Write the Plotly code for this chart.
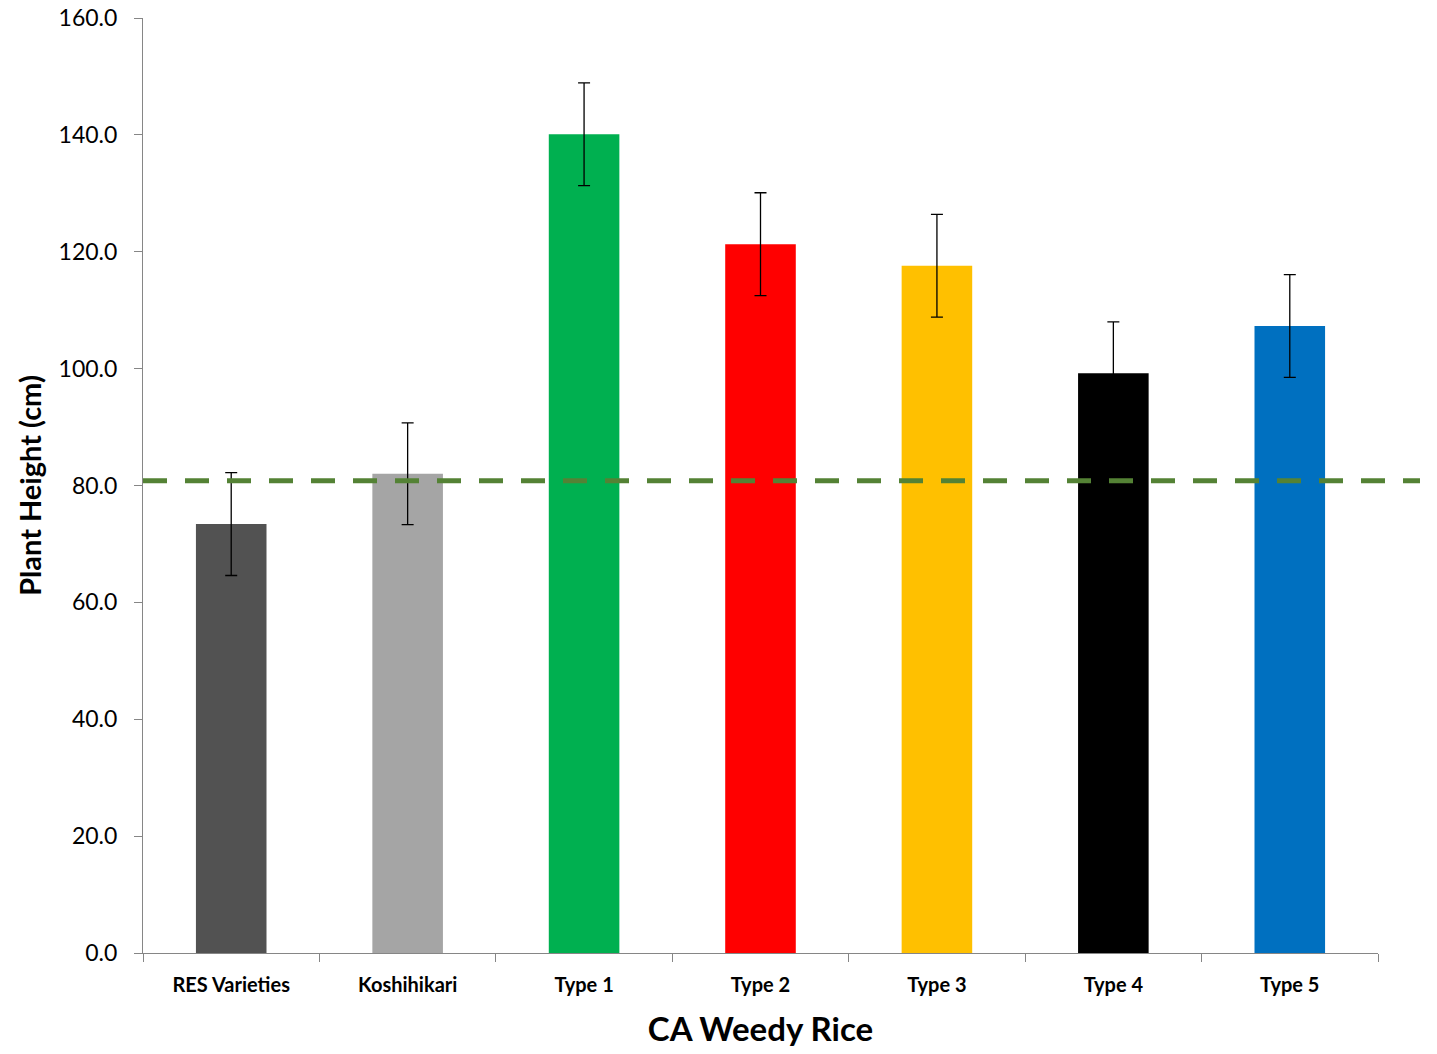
import plotly.graph_objects as go

# Mean plant height by group, with error bar (± cm)
categories = ["RES Varieties", "Koshihikari", "Type 1", "Type 2", "Type 3", "Type 4", "Type 5"]
heights = [73.4, 82.0, 140.1, 121.3, 117.6, 99.2, 107.3]
errors = [8.8, 8.7, 8.8, 8.8, 8.8, 8.8, 8.8]
bar_colors = ["#525252", "#A5A5A5", "#00B050", "#FF0000", "#FFC000", "#000000", "#0070C0"]

# Reference height drawn as a dashed horizontal line
reference_height = 80.8

y_ticks = [0, 20, 40, 60, 80, 100, 120, 140, 160]
y_tick_labels = [f"{v:.1f}" for v in y_ticks]

FONT = "Lato, 'Open Sans', sans-serif"
AXIS_GRAY = "#868686"

fig = go.Figure(
    go.Bar(
        x=categories,
        y=heights,
        marker=dict(color=bar_colors, line=dict(width=0)),
        error_y=dict(type="data", array=errors, visible=True,
                     color="black", thickness=1.3, width=6),
        width=0.4,
    )
)

fig.add_shape(
    type="line", xref="paper", yref="y",
    x0=0, x1=1.034, y0=reference_height, y1=reference_height,
    line=dict(color="#548235", width=5, dash="24px,18px"),
    layer="above",
)

fig.update_layout(
    width=1437, height=1054,
    margin=dict(l=143, r=59, t=18, b=101),
    plot_bgcolor="white", paper_bgcolor="white",
    showlegend=False,
    font=dict(family=FONT, color="black"),
)

fig.update_xaxes(
    automargin=False,
    showline=True, linecolor=AXIS_GRAY, linewidth=1,
    ticks="outside", ticklen=8, tickcolor=AXIS_GRAY, tickwidth=1,
    tickson="boundaries",
    tickfont=dict(size=20, family=FONT, weight="bold"),
    ticklabelstandoff=14,
    title=dict(text="<b>CA Weedy Rice</b>", font=dict(size=33, family=FONT), standoff=22),
    range=[-0.5, 6.5],
)

fig.update_yaxes(
    automargin=False,
    range=[0, 160],
    tickvals=y_ticks, ticktext=y_tick_labels,
    showgrid=False, zeroline=False,
    showline=True, linecolor=AXIS_GRAY, linewidth=1,
    ticks="outside", ticklen=8, tickcolor=AXIS_GRAY, tickwidth=1,
    tickfont=dict(size=23, family=FONT),
    ticklabelstandoff=12,
    title=dict(text="<b>Plant Height (cm)</b>", font=dict(size=29, family=FONT), standoff=8),
)

fig.write_html("out.html")
